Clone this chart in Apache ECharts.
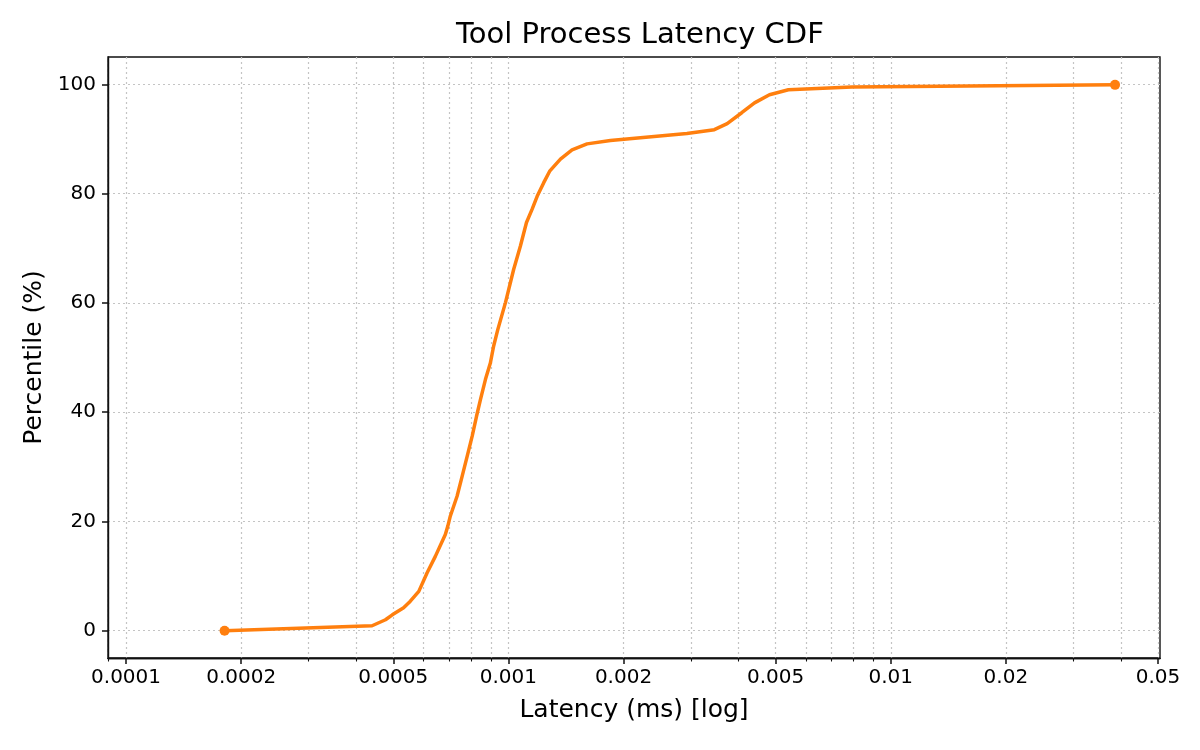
<!DOCTYPE html>
<html>
<head>
<meta charset="utf-8">
<script src="https://cdn.jsdelivr.net/npm/echarts@6/dist/echarts.min.js"></script>
<style>
  html, body { margin: 0; padding: 0; background: #fff; }
  #main { width: 1200px; height: 750px; }
</style>
</head>
<body>
<div id="main"></div>
<script>
// latency samples (ms) and the cumulative percentile at each one
const latency = [0.000181, 0.000440, 0.000477, 0.000497, 0.000532, 0.000554, 0.000583,
    0.000613, 0.000644, 0.000684, 0.000694, 0.000705, 0.000734, 0.000757, 0.000780,
    0.000804, 0.000825, 0.000845, 0.000871, 0.000897, 0.000915, 0.000938, 0.000982,
    0.001032, 0.001075, 0.001115, 0.001153, 0.001189, 0.001237, 0.001282, 0.001368,
    0.001467, 0.001606, 0.001848, 0.002930, 0.003456, 0.003734, 0.004076, 0.004402,
    0.004817, 0.005398, 0.007916, 0.0386];
const percentile = [0, 0.9, 2, 2.9, 4.2, 5.4, 7.2,
    10.6, 13.6, 17.6, 19.1, 21, 24.6, 28.3, 31.9,
    35.6, 39.2, 42.3, 46, 49, 52.1, 55.1, 60,
    66.1, 70.4, 74.7, 77.1, 79.5, 82, 84.1, 86.3,
    88, 89.1, 89.7, 91, 91.7, 92.8, 94.8, 96.6,
    98.1, 99, 99.5, 99.9];

const xMajorTicks = [0.0001, 0.0002, 0.0005, 0.001, 0.002, 0.005, 0.01, 0.02, 0.05];
const xMinorTicks = [0.00009, 0.0003, 0.0004, 0.0006, 0.0007, 0.0008, 0.0009,
    0.003, 0.004, 0.006, 0.007, 0.008, 0.009, 0.03, 0.04];
const yTicks = [0, 20, 40, 60, 80, 100];

const font = 'DejaVu Sans';
const spine = { show: true, onZero: false, lineStyle: { color: '#111', width: 1.4 } };
const gridLine = { show: true, lineStyle: { color: '#c4c4c4', type: [2, 3], width: 1.2 } };

var myChart = echarts.init(document.getElementById('main'));
var points = latency.map((v, i) => [v, percentile[i]]);
var last = points.length - 1;

option = {
    animation: false,
    backgroundColor: '#fff',
    title: {
        text: 'Tool Process Latency CDF',
        left: 451,
        top: 16,
        textStyle: { fontFamily: font, fontSize: 29, fontWeight: 'normal', color: '#000' }
    },
    grid: {
        left: 108, right: 40, top: 57, bottom: 92,
        show: true, borderColor: '#111', borderWidth: 1.4
    },
    xAxis: [{
        type: 'log',
        min: 0.0000897,
        max: 0.0506,
        name: 'Latency (ms) [log]',
        nameLocation: 'middle',
        nameGap: 40,
        nameTextStyle: { fontFamily: font, fontSize: 25, color: '#000' },
        axisLine: spine,
        axisTick: { show: true, length: 6, customValues: xMajorTicks, lineStyle: { color: '#111', width: 1.5 } },
        axisLabel: {
            customValues: xMajorTicks, margin: 10,
            fontFamily: font, fontSize: 20, color: '#000',
            formatter: v => String(+v.toPrecision(3))
        },
        splitLine: gridLine
    }, {
        type: 'log',
        min: 0.0000897,
        max: 0.0506,
        position: 'bottom',
        axisLine: spine,
        axisTick: { show: true, length: 3.5, customValues: xMinorTicks, lineStyle: { color: '#111', width: 1.1 } },
        axisLabel: { show: false },
        splitLine: gridLine
    }],
    yAxis: {
        type: 'value',
        min: -5,
        max: 105,
        name: 'Percentile (%)',
        nameLocation: 'middle',
        nameGap: 58,
        nameTextStyle: { fontFamily: font, fontSize: 25, color: '#000' },
        axisLine: spine,
        axisTick: { show: true, length: 6, customValues: yTicks, lineStyle: { color: '#111', width: 1.5 } },
        axisLabel: { customValues: yTicks, margin: 12, fontFamily: font, fontSize: 20, color: '#000' },
        splitLine: gridLine
    },
    series: [{
        type: 'line',
        data: points,
        xAxisIndex: 0,
        color: '#ff7f0e',
        lineStyle: { width: 3.5, color: '#ff7f0e' },
        symbol: (val, params) => (params.dataIndex === 0 || params.dataIndex === last) ? 'circle' : 'none',
        symbolSize: 10,
        showAllSymbol: true,
        itemStyle: { color: '#ff7f0e' }
    }]
};
option && myChart.setOption(option);
</script>
</body>
</html>
